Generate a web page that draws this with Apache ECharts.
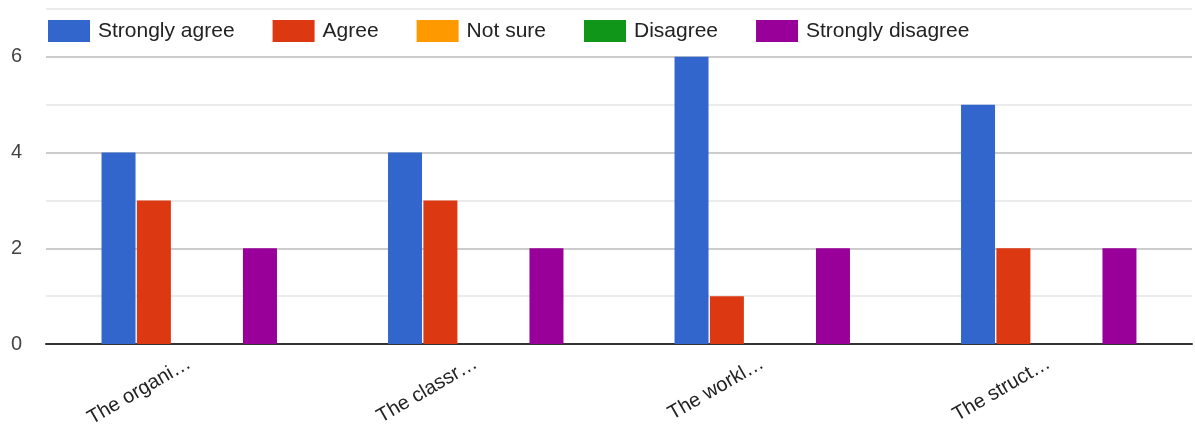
<!DOCTYPE html>
<html><head><meta charset="utf-8">
<script src="https://cdn.jsdelivr.net/npm/echarts@6/dist/echarts.min.js"></script>
<style>html,body{margin:0;padding:0;background:#fff}#c{width:1195px;height:428px}</style>
</head><body><div id="c"></div>
<script>
const categories = ["The organi…", "The classr…", "The workl…", "The struct…"];
const seriesNames = ["Strongly agree", "Agree", "Not sure", "Disagree", "Strongly disagree"];
const stronglyAgree = [4, 4, 6, 5];
const agree = [3, 3, 1, 2];
const notSure = [0, 0, 0, 0];
const disagree = [0, 0, 0, 0];
const stronglyDisagree = [2, 2, 2, 2];
const colors = ["#3366cc", "#dc3912", "#ff9900", "#109618", "#990099"];
const values = [stronglyAgree, agree, notSure, disagree, stronglyDisagree];

const chart = echarts.init(document.getElementById('c'));
chart.setOption({
  animation: false,
  textStyle: {fontFamily: 'Arial, "Liberation Sans", sans-serif'},
  color: colors,
  legend: {
    left: 43, top: 15, itemWidth: 42, itemHeight: 22, itemGap: 38,
    icon: 'rect',
    textStyle: {fontSize: 21, color: '#222', padding: [0, 0, 0, 3]},
    data: seriesNames
  },
  grid: {left: 46, right: 3, top: 9, bottom: 84, containLabel: false, outerBoundsMode: 'none'},
  xAxis: {
    type: 'category', data: categories,
    axisLine: {lineStyle: {color: '#333', width: 2}},
    axisTick: {show: false},
    axisLabel: {rotate: 30, fontSize: 20, color: '#222', margin: 18, interval: 0}
  },
  yAxis: {
    type: 'value', min: 0, max: 7, interval: 1,
    axisLine: {show: false}, axisTick: {show: false},
    axisLabel: {fontSize: 20, color: '#444', margin: 24,
      formatter: v => (v % 2 === 0 && v <= 6) ? String(v) : ''},
    splitLine: {lineStyle: {color: ['#cccccc', '#ebebeb'], width: 2}}
  },
  series: seriesNames.map((n, i) => ({
    name: n, type: 'bar', data: values[i],
    barWidth: 34, barGap: '4%',
    itemStyle: {color: colors[i]}
  }))
});
</script></body></html>
